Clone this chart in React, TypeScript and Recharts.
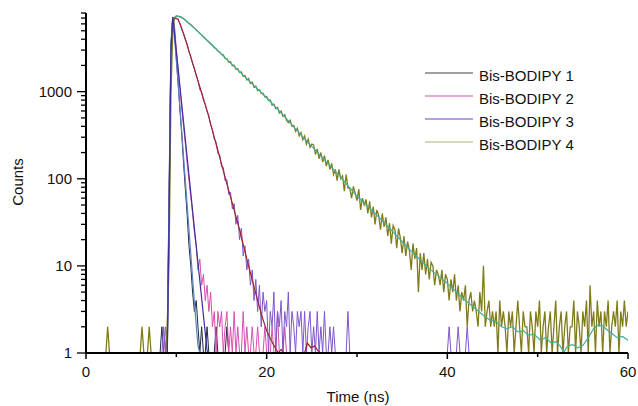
import { LineChart, Line, XAxis, YAxis, Legend } from 'recharts'

const STEP = 0.2 // ns per channel in the sampled decays
const FONT = 'Arial, "Liberation Sans", sans-serif'

// Bis-BODIPY 1 counts, starting at 8.0 ns
const S1_START = 8.0
const S1_COUNTS = [
  1, 1, 2, 1, 1, 2, 80, 3600, 7200, 5200,
  2400, 1250, 620, 320, 150, 75, 38, 17, 10, 5,
  3, 4, 2, 1, 2, 1, 1, 2, 1, 1,
  1, 1, 2, 1, 1, 1, 1, 1, 2, 1,
  1,
]

// Bis-BODIPY 2 counts, starting at 8.0 ns
const S2_START = 8.0
const S2_COUNTS = [
  1, 1, 1, 1, 2, 1, 50, 3200, 7200, 5600,
  3100, 1800, 1100, 640, 400, 250, 150, 95, 62, 40,
  24, 17, 9, 12, 6, 8, 4, 6, 3, 5,
  2, 3, 1, 3, 2, 3, 1, 2, 3, 1,
  2, 1, 3, 1, 2, 1, 1, 3, 1, 2,
  1, 1, 2, 1, 1, 2, 1, 1, 1, 2,
  1, 1, 1, 2, 1, 1, 3, 1, 1, 1,
  2, 1, 1, 1, 1, 1,
]

// Bis-BODIPY 3 counts, starting at 8.0 ns
const S3_START = 8.0
const S3_COUNTS = [
  1, 1, 1, 2, 1, 1, 40, 2500, 6500, 7200,
  7050, 6650, 6050, 5150, 4650, 3950, 3550, 2870, 2530, 2120,
  1850, 1520, 1330, 1050, 980, 800, 720, 590, 530, 410,
  370, 285, 265, 195, 190, 138, 135, 95, 98, 66,
  70, 45, 52, 30, 38, 20, 27, 13, 17, 9,
  12, 6, 9, 4, 7, 3, 6, 2, 5, 3,
  4, 1, 3, 2, 5, 1, 3, 2, 4, 1,
  3, 2, 5, 1, 3, 2, 1, 3, 2, 3,
  1, 3, 1, 2, 3, 1, 2, 1, 3, 1,
  2, 1, 3, 1, 1, 2, 1, 2, 1, 1,
  1, 1, 1, 1, 1, 3, 1, 1, 1, 1,
  1, 1, 1, 1, 1, 1, 1, 1, 1, 1,
  1, 1, 1, 1, 1, 1, 1, 1, 1, 1,
  1, 1, 1, 1, 1, 1, 1, 1, 1, 1,
  1, 1, 1, 1, 1, 1, 1, 1, 1, 1,
  1, 1, 1, 1, 1, 1, 1, 1, 1, 1,
  1, 2, 1, 1, 1, 1, 2, 1, 1, 1,
  1, 2, 1, 1, 1, 1,
]

// Bis-BODIPY 4 counts, starting at 0 ns
const S4_START = 0
const S4_COUNTS = [
  1, 1, 1, 1, 1, 1, 1, 1, 1, 1,
  1, 1, 2, 1, 1, 1, 1, 1, 1, 1,
  1, 1, 1, 1, 1, 1, 1, 1, 1, 1,
  1, 2, 1, 1, 1, 2, 1, 1, 1, 1,
  1, 1, 1, 1, 1, 2,
  12, 900, 4800, 7000, 7400, 7330, 7240, 7080, 6920, 6610,
  6330, 6080, 5910, 5600, 5390, 5110, 4920, 4660, 4490, 4250,
  4090, 3870, 3740, 3530, 3410, 3220, 3110, 2930, 2840, 2670,
  2650, 2400, 2390, 2180, 2200, 1990, 2010, 1810, 1830, 1660,
  1690, 1500, 1530, 1360, 1410, 1240, 1290, 1130, 1160, 1030,
  1050, 950, 960, 870, 880, 790, 800, 700, 720, 640,
  660, 570, 600, 520, 545, 470, 440, 470, 400, 410,
  350, 380, 310, 340, 280, 310, 250, 285, 230, 250,
  245, 190, 220, 170, 200, 155, 185, 140, 165, 128,
  150, 112, 128, 95, 128, 100, 108, 72, 112, 78,
  78, 60, 82, 68, 56, 76, 44, 60, 50, 58,
  40, 55, 36, 48, 30, 44, 38, 26, 40, 28,
  36, 22, 31, 18, 29, 26, 16, 27, 21, 14,
  22, 13, 19, 15, 9, 18, 12, 16, 5, 14,
  9, 14, 8, 12, 7, 11, 10, 6, 9, 8,
  6, 9, 5, 8, 7, 4, 7, 5, 8, 4,
  6, 3, 5, 4, 6, 2, 4, 5, 3, 4,
  3, 2, 5, 3, 10, 2, 3, 4, 2, 3,
  2, 3, 1, 4, 2, 3, 2, 1, 3, 2,
  3, 1, 2, 4, 2, 1, 3, 2, 2, 1,
  3, 2, 1, 3, 2, 4, 1, 2, 3, 1,
  2, 3, 1, 2, 4, 1, 2, 3, 1, 2,
  3, 1, 2, 2, 4, 1, 3, 2, 1, 3,
  2, 4, 1, 6, 2, 3, 1, 4, 2, 3,
  1, 3, 2, 4, 1, 2, 3, 2, 4, 1,
  3, 2, 4, 2, 3,
]

// fitted decays
const FIT1_T = [9.0, 9.2, 9.4, 9.6, 10.0, 10.5, 11.0, 11.5, 12.0, 12.4, 12.6]
const FIT1_Y = [1, 60, 3000, 7200, 2300, 480, 95, 19, 3.8, 1.2, 1]

const FIT2_T = [9.0, 9.2, 9.4, 9.6, 10.0, 10.5, 11.0, 11.5, 12.0, 12.5, 13.0, 13.4, 13.5]
const FIT2_Y = [1, 40, 2800, 7200, 2900, 900, 280, 87, 27, 8.5, 2.7, 1.07, 1]

const FIT3_T = [9.8, 10.2, 10.6, 11, 11.5, 12, 12.5, 13, 13.5, 14, 14.5, 15, 15.5, 16, 16.5, 17, 17.5, 18, 18.5, 19, 19.5, 20, 20.5, 21, 21.3, 21.6, 21.9, 24.2, 24.5, 24.9, 25.3, 25.7, 26]
const FIT3_Y = [7000, 6800, 5300, 4000, 2700, 1820, 1230, 830, 560, 355, 230, 148, 95, 62, 40, 26, 16, 10, 6.3, 4.0, 2.6, 1.8, 1.4, 1.12, 1, 1.1, 1, 1, 1.3, 1.15, 1.2, 1.05, 1]

const FIT4_T = [9.8, 10.0, 10.5, 11, 12, 13, 14, 16, 18, 20, 22, 24, 26, 28, 30, 32, 34, 36, 38, 40, 42, 43, 44, 44.7, 45.4, 46, 46.6, 47.2, 47.8, 48.4, 49, 49.6, 50.3, 50.9, 51.5, 52, 52.5, 52.9, 53.3, 53.9, 54.4, 55, 55.6, 56.2, 56.7, 57.2, 57.8, 58.3, 58.8, 59.4, 60]
const FIT4_Y = [7000, 7400, 7300, 6600, 5370, 4270, 3390, 2140, 1350, 851, 513, 302, 182, 110, 63, 40, 24.5, 14.8, 9.3, 6.3, 4.0, 3.3, 2.7, 2.4, 2.3, 2.0, 1.9, 2.0, 1.75, 1.8, 1.6, 1.65, 1.4, 1.5, 1.3, 1.35, 1.2, 1.02, 1.2, 1.25, 1.15, 1.22, 1.5, 1.9, 2.1, 2.05, 1.8, 1.65, 1.5, 1.55, 1.4]

const SERIES_NAMES = ['Bis-BODIPY 1', 'Bis-BODIPY 2', 'Bis-BODIPY 3', 'Bis-BODIPY 4']
const DATA_COLORS = ['#1f2a44', '#d94fb0', '#7f55cc', '#807c1a']
const DATA_WIDTHS = [1, 1, 1, 1.3]
const LEGEND_COLORS = ['#808080', '#e08cc8', '#9a80e0', '#c8c8a0']
const FIT_COLORS = ['#5b84c6', '#3d2e9c', '#a0202c', '#3fb0a6']

const X_TICKS = [0, 10, 20, 30, 40, 50, 60]
const X_LABELS = [0, 20, 40, 60]
const Y_TICKS = [1, 2, 3, 4, 5, 6, 7, 8, 9, 10, 20, 30, 40, 50, 60, 70, 80, 90, 100, 200, 300, 400, 500, 600, 700, 800, 900, 1000, 2000, 3000, 4000, 5000, 6000, 7000, 8000]
const Y_LABELS = [1, 10, 100, 1000]

const sampled = (start: number, counts: number[]) =>
  counts.map((v, i) => ({ t: +(start + i * STEP).toFixed(2), v }))
const paired = (ts: number[], ys: number[]) => ts.map((t, i) => ({ t, v: ys[i] }))

const DECAYS = [
  sampled(S1_START, S1_COUNTS),
  sampled(S2_START, S2_COUNTS),
  sampled(S3_START, S3_COUNTS),
  sampled(S4_START, S4_COUNTS),
]
const FITS = [
  paired(FIT1_T, FIT1_Y),
  paired(FIT2_T, FIT2_Y),
  paired(FIT3_T, FIT3_Y),
  paired(FIT4_T, FIT4_Y),
]

const YTick = ({ x, y, payload }: any) => {
  const major = Y_LABELS.includes(payload.value)
  return (
    <g>
      <line x1={x} x2={x - (major ? 9 : 5)} y1={y} y2={y} stroke="#000" strokeWidth={1.3} />
      {major && (
        <text x={x - 14} y={y + 5} textAnchor="end" fontSize={15} fontFamily={FONT} fill="#111">
          {payload.value}
        </text>
      )}
    </g>
  )
}

const XTick = ({ x, y, payload }: any) => {
  const major = X_LABELS.includes(payload.value)
  return (
    <g>
      <line x1={x} x2={x} y1={y} y2={y + (major ? 6 : 4)} stroke="#000" strokeWidth={1.5} />
      {major && (
        <text x={x} y={y + 24} textAnchor="middle" fontSize={15} fontFamily={FONT} fill="#111">
          {payload.value}
        </text>
      )}
    </g>
  )
}

const LegendBox = () => (
  <svg width={210} height={95} style={{ display: 'block' }}>
    {SERIES_NAMES.map((name, i) => (
      <g key={name}>
        <line x1={0} x2={48} y1={13 + i * 23} y2={13 + i * 23} stroke={LEGEND_COLORS[i]} strokeWidth={1.5} />
        <text x={54} y={21 + i * 23} fontSize={15} fontFamily={FONT} fill="#111">
          {name}
        </text>
      </g>
    ))}
  </svg>
)

export default function App() {
  return (
    <div style={{ position: 'absolute', left: 0, top: 0, background: '#fff' }}>
      <LineChart width={638} height={406} margin={{ top: 13, right: 10, bottom: 23, left: 0 }}>
        <XAxis
          type="number"
          dataKey="t"
          domain={[0, 60]}
          ticks={X_TICKS}
          interval={0}
          allowDataOverflow
          height={30}
          tickSize={0}
          tickMargin={0}
          tickLine={false}
          tick={<XTick />}
          axisLine={{ stroke: '#000', strokeWidth: 2 }}
          label={() => (
            <text x={358} y={402} textAnchor="middle" fontSize={15} fontFamily={FONT} fill="#111">
              Time (ns)
            </text>
          )}
        />
        <YAxis
          scale="log"
          domain={[1, 8000]}
          ticks={Y_TICKS}
          interval={0}
          allowDataOverflow
          width={86}
          tickSize={0}
          tickMargin={0}
          tickLine={false}
          tick={<YTick />}
          axisLine={{ stroke: '#000', strokeWidth: 2 }}
          label={() => (
            <text x={23} y={182} transform="rotate(-90 23 182)" textAnchor="middle" fontSize={15} fontFamily={FONT} fill="#111">
              Counts
            </text>
          )}
        />
        <Legend
          layout="vertical"
          align="center"
          verticalAlign="middle"
          content={() => <LegendBox />}
          wrapperStyle={{ left: 425, top: 60, width: 210, height: 95 }}
        />
        {DECAYS.map((rows, i) => (
          <Line
            key={SERIES_NAMES[i]}
            data={rows}
            dataKey="v"
            name={SERIES_NAMES[i]}
            type="linear"
            stroke={DATA_COLORS[i]}
            strokeWidth={DATA_WIDTHS[i]}
            dot={false}
            isAnimationActive={false}
          />
        ))}
        {FITS.map((rows, i) => (
          <Line
            key={`fit-${i}`}
            data={rows}
            dataKey="v"
            name={`Fit ${i + 1}`}
            legendType="none"
            type="linear"
            stroke={FIT_COLORS[i]}
            strokeWidth={1.2}
            dot={false}
            isAnimationActive={false}
          />
        ))}
      </LineChart>
    </div>
  )
}
